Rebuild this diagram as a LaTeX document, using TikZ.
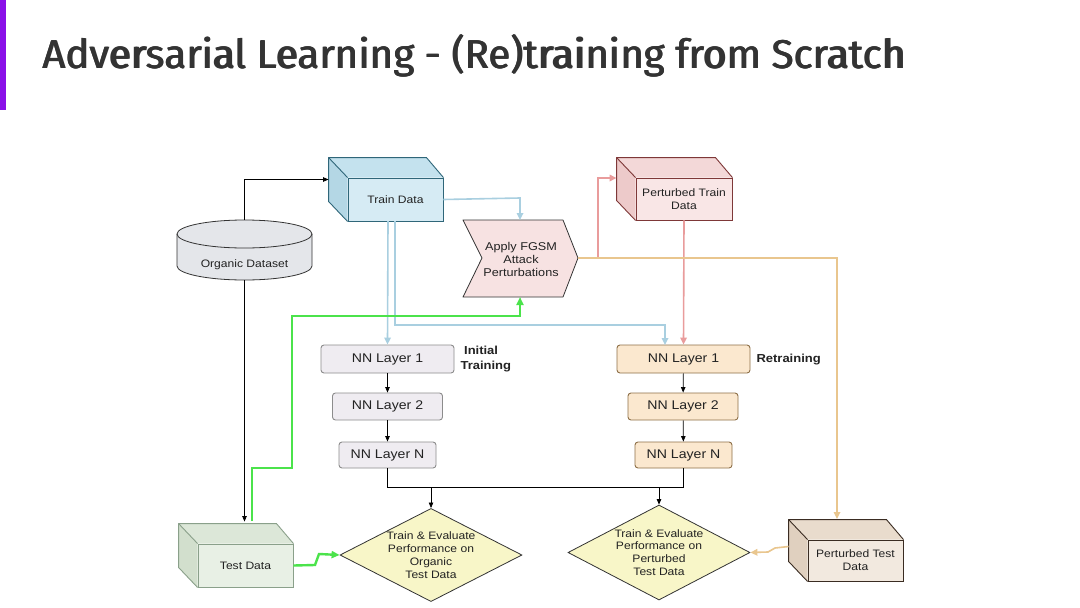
\documentclass[tikz,border=0pt]{standalone}
\usepackage{fontspec}
\setmainfont{Liberation Sans}[FakeStretch=1.12]
\newfontfamily\titlefont{Fira Sans}
\usetikzlibrary{arrows.meta,calc,shapes.geometric}
\definecolor{tdfill}{HTML}{D6EBF4}
\definecolor{tdtop}{HTML}{C4E2EE}
\definecolor{tdside}{HTML}{B4D7E5}
\definecolor{tdline}{HTML}{2F6679}
\definecolor{ptfill}{HTML}{F9E6E6}
\definecolor{pttop}{HTML}{F3D8D8}
\definecolor{ptside}{HTML}{EDCACA}
\definecolor{ptline}{HTML}{7E3838}
\definecolor{tsfill}{HTML}{E8F0E5}
\definecolor{tstop}{HTML}{DCE7D8}
\definecolor{tsside}{HTML}{D2DFCD}
\definecolor{tsline}{HTML}{8AA08A}
\definecolor{pxfill}{HTML}{F2E9DF}
\definecolor{pxtop}{HTML}{E9DCCD}
\definecolor{pxside}{HTML}{E0D0BF}
\definecolor{pxline}{HTML}{3A2C22}
\definecolor{orgfill}{HTML}{E4E6EA}
\definecolor{fgfill}{HTML}{F7E2E2}
\definecolor{nnlfill}{HTML}{EFECF1}
\definecolor{nnlline}{HTML}{8C8C8C}
\definecolor{nnrfill}{HTML}{FBE8CF}
\definecolor{nnrline}{HTML}{8E7048}
\definecolor{dmfill}{HTML}{F8F6C8}
\definecolor{blueln}{HTML}{A9CFE0}
\definecolor{redln}{HTML}{E99C9C}
\definecolor{tanln}{HTML}{E9C68E}
\definecolor{greenln}{HTML}{4BE34B}
\definecolor{titlec}{HTML}{333333}
\definecolor{purplebar}{HTML}{8A10E8}
\definecolor{txt}{HTML}{222222}
\tikzset{
  lbl/.style={font=\fontsize{10.8}{12.8}\selectfont, text=txt, align=center},
  face/.style={rectangle, draw, line width=0.9pt, inner sep=1pt},
  nnl/.style={rectangle, rounded corners=3pt, draw=nnlline, fill=nnlfill, line width=0.9pt, lbl, font=\fontsize{12.6}{14}\selectfont},
  nnr/.style={rectangle, rounded corners=3pt, draw=nnrline, fill=nnrfill, line width=0.9pt, lbl, font=\fontsize{12.6}{14}\selectfont},
  dm/.style={diamond, draw=black!80, fill=dmfill, line width=0.8pt, aspect=1.9, inner sep=0pt, lbl},
  blk/.style={draw=black, line width=0.7pt, -{Triangle[length=5.5pt,width=4.5pt]}},
  blu/.style={draw=blueln, line width=1.6pt, -{Triangle[length=7pt,width=6.5pt]}},
  red/.style={draw=redln, line width=1.6pt, -{Triangle[length=7pt,width=6.5pt]}},
  tan/.style={draw=tanln, line width=1.6pt, -{Triangle[length=7pt,width=6.5pt]}},
  grn/.style={draw=greenln, line width=2.4pt, -{Triangle[length=8pt,width=7pt]}},
  bold/.style={font=\fontsize{11.6}{15}\selectfont\bfseries, text=txt, align=left},
  ttl/.style={anchor=west, text=titlec, inner sep=0pt}
}
\newcommand\titletext{\resizebox{863pt}{!}{\titlefont Adversarial Learning - (Re)training from Scratch}}
\newcommand\cubefaces[5]{%
  \fill[#3] (#1.north west) -- ($(#1.north west)+(-19,-20)$) -- ($(#1.north east)+(-17,-20)$) -- (#1.north east) -- cycle;
  \fill[#4] (#1.north west) -- ($(#1.north west)+(-19,-20)$) -- ($(#1.south west)+(-19,-20)$) -- (#1.south west) -- cycle;
  \draw[#5, line width=0.9pt, line join=round] (#1.south west) -- ($(#1.south west)+(-19,-20)$) -- ($(#1.north west)+(-19,-20)$) -- ($(#1.north east)+(-17,-20)$) -- (#1.north east);
  \draw[#5, line width=0.9pt] (#1.north west) -- ($(#1.north west)+(-19,-20)$);
}
\begin{document}
\begin{tikzpicture}[x=1pt,y=-1pt]
\useasboundingbox (0,0) rectangle (1080,608);
\fill[white] (0,0) rectangle (1080,608);
% title
\fill[purplebar] (0,0) rectangle (6,110);
\node[ttl] (title) at (42,56) {\titletext};
\node[ttl] (titleb) at (42.6,56) {\titletext};
\node[ttl] (titlec) at (43.2,56) {\titletext};

% Organic dataset cylinder
\fill[orgfill] (177,234) -- (177,266) arc (180:360:67.5pt and 14pt) -- (312,234) arc (0:180:67.5pt and 14pt) -- cycle;
\draw[black!80, line width=0.8pt] (177,234) -- (177,266) arc (180:360:67.5pt and 14pt) -- (312,234) arc (0:180:67.5pt and 14pt) -- cycle;
\draw[black!80, line width=0.8pt] (177,234) arc (180:360:67.5pt and 14pt);
\node[lbl, minimum width=135pt, minimum height=60pt] (org) at (244.5,250) {};
\node[lbl] (orgtxt) at (244.5,265) {Organic Dataset};

% Train Data
\node[face, draw=tdline, fill=tdfill, minimum width=95pt, minimum height=43pt, lbl] (train) at (395.5,199.5) {Train Data};
\cubefaces{train}{}{tdtop}{tdside}{tdline}

% Perturbed Train Data
\node[face, draw=ptline, fill=ptfill, minimum width=96pt, minimum height=42pt, lbl] (ptrain) at (684,199) {Perturbed Train\\Data};
\cubefaces{ptrain}{}{pttop}{ptside}{ptline}

% Test Data
\node[face, draw=tsline, fill=tsfill, minimum width=95pt, minimum height=43pt, lbl] (test) at (245.5,565.5) {Test Data};
\cubefaces{test}{}{tstop}{tsside}{tsline}

% Perturbed Test Data
\node[face, draw=pxline, fill=pxfill, minimum width=95pt, minimum height=41pt, lbl] (ptest) at (855.5,560.5) {Perturbed Test\\Data};
\cubefaces{ptest}{}{pxtop}{pxside}{pxline}

% FGSM chevron
\filldraw[fill=fgfill, draw=black!80, line width=0.8pt, line join=round] (463,220) -- (563,220) -- (578,258) -- (563,297) -- (463,297) -- (482,258) -- cycle;
\node[lbl, font=\fontsize{11.3}{13}\selectfont] (fgsm) at (521,259) {Apply FGSM\\Attack\\Perturbations};
\coordinate (fgT) at (520,220);
\coordinate (fgB) at (520,297);
\coordinate (fgR) at (578,258);

% NN layers left
\node[nnl, minimum width=133pt, minimum height=28pt] (l1) at (387.5,359) {NN Layer 1};
\node[nnl, minimum width=110pt, minimum height=27pt] (l2) at (387.5,406.5) {NN Layer 2};
\node[nnl, minimum width=97pt, minimum height=26pt] (ln) at (387.5,455) {NN Layer N};
\node[bold, anchor=west] (init) at (457,359) {\ Initial\\Training};

% NN layers right
\node[nnr, minimum width=133pt, minimum height=28pt] (r1) at (683.5,359) {NN Layer 1};
\node[nnr, minimum width=110pt, minimum height=27pt] (r2) at (683,406.5) {NN Layer 2};
\node[nnr, minimum width=97pt, minimum height=26pt] (rn) at (683.5,455) {NN Layer N};
\node[bold, anchor=west] (retr) at (753,360) {Retraining};

% diamonds
\node[dm, minimum width=182pt, minimum height=86pt] (d1) at (431,555) {Train \& Evaluate\\Performance on\\Organic\\Test Data};
\node[dm, minimum width=182pt, minimum height=95pt] (d2) at (659,552.5) {Train \& Evaluate\\Performance on\\Perturbed\\Test Data};

% connectors
\coordinate (trainL) at ($(train.west)+(-19,-20)$);
\coordinate (testT) at ($(test.north west)+(0,-22)$);
\draw[blk] (org.north) -- (org.north |- trainL) -- (trainL);
\draw[blk] (org.south) -- (org.south |- testT);

\draw[blu] (train.east) -- (520,198) -- (fgT);
\draw[blu] (388,221) -- (l1.north);
\draw[blu] (395,221) -- (395,325) -- (665,325) -- (665,345);
\coordinate (ptL) at ($(ptrain.west)+(-19,-21)$);
\draw[red] (fgR) -- (598,258) -- (598,178) -- (ptL);
\draw[red] (ptrain.south) -- (r1.north);
\draw[tan] (fgR) -- (837,258) -- (837,519);
\draw[grn] (252,521) -- (252,468) -- (292,468) -- (292,316) -- (520,316) -- (fgB);
\draw[grn] (test.east) -- (315,565) -- (319,554) -- (d1.west);
\draw[tan] ($(ptest.west)+(-19,-14)$) -- (775,548) -- (768,552) -- (d2.east);

\draw[blk] (l1) -- (l2);
\draw[blk] (l2) -- (ln);
\draw[blk] (r1) -- (r2);
\draw[blk] (r2) -- (rn);
\draw[draw=black, line width=0.7pt] (ln.south) -- (387.5,487) -- (683.5,487) -- (rn.south);
\draw[blk] (431,487) -- (d1.north);
\draw[blk] (659,487) -- (d2.north);
\end{tikzpicture}
\end{document}
